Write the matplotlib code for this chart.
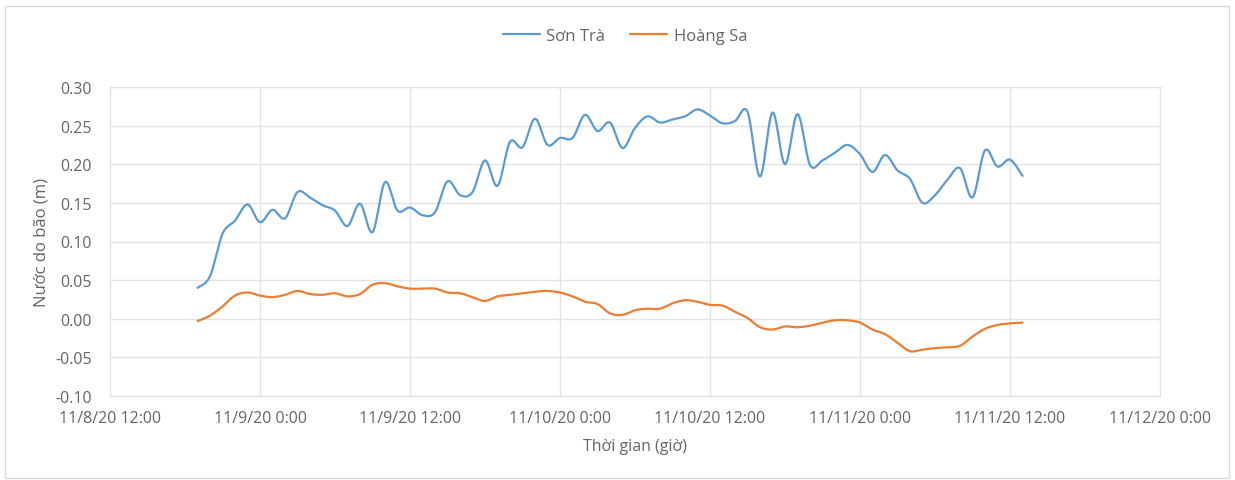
import numpy as np
import matplotlib
matplotlib.use("Agg")
import matplotlib.pyplot as plt
import matplotlib.dates as mdates
from matplotlib.patches import Rectangle
from datetime import datetime, timedelta

# ---- data ----
start_time = datetime(2020, 11, 8, 19, 0)
son_tra = [0.040, 0.055, 0.110, 0.127, 0.148, 0.125, 0.141, 0.130, 0.164, 0.157,
           0.147, 0.140, 0.120, 0.149, 0.112, 0.177, 0.140, 0.144, 0.134, 0.138,
           0.178, 0.160, 0.164, 0.205, 0.172, 0.229, 0.222, 0.259, 0.225, 0.234,
           0.234, 0.264, 0.243, 0.254, 0.221, 0.247, 0.262, 0.254, 0.258, 0.262,
           0.271, 0.263, 0.253, 0.256, 0.268, 0.184, 0.267, 0.200, 0.265, 0.199,
           0.205, 0.215, 0.225, 0.213, 0.190, 0.212, 0.192, 0.181, 0.150, 0.160,
           0.180, 0.195, 0.157, 0.218, 0.197, 0.206, 0.185]
hoang_sa = [-0.003, 0.004, 0.016, 0.030, 0.034, 0.030, 0.028, 0.031, 0.036, 0.032,
            0.031, 0.033, 0.029, 0.032, 0.044, 0.046, 0.042, 0.039, 0.039, 0.039,
            0.034, 0.033, 0.028, 0.023, 0.029, 0.031, 0.033, 0.035, 0.036, 0.034,
            0.029, 0.022, 0.019, 0.007, 0.005, 0.011, 0.013, 0.013, 0.020, 0.024,
            0.022, 0.018, 0.017, 0.009, 0.001, -0.011, -0.014, -0.010, -0.011, -0.009,
            -0.005, -0.002, -0.002, -0.005, -0.014, -0.020, -0.031, -0.042, -0.040, -0.038,
            -0.037, -0.035, -0.023, -0.013, -0.008, -0.006, -0.005]
times = [start_time + timedelta(hours=i) for i in range(len(son_tra))]
series_names = ["Sơn Trà", "Hoàng Sa"]
xtick_labels = ["11/8/20 12:00", "11/9/20 0:00", "11/9/20 12:00", "11/10/20 0:00",
                "11/10/20 12:00", "11/11/20 0:00", "11/11/20 12:00", "11/12/20 0:00"]
xtick_times = [datetime(2020, 11, 8, 12) + timedelta(hours=12 * i) for i in range(len(xtick_labels))]
yticks = [-0.10, -0.05, 0.00, 0.05, 0.10, 0.15, 0.20, 0.25, 0.30]


def smooth(x, y, n=12):
    """Catmull-Rom style smoothing similar to Excel's smoothed line."""
    x = np.asarray(x, float)
    y = np.asarray(y, float)
    px = np.concatenate([[x[0]], x, [x[-1]]])
    py = np.concatenate([[y[0]], y, [y[-1]]])
    xs, ys = [], []
    t = np.linspace(0, 1, n, endpoint=False)
    for i in range(1, len(px) - 2):
        p0x, p1x, p2x, p3x = px[i - 1], px[i], px[i + 1], px[i + 2]
        p0y, p1y, p2y, p3y = py[i - 1], py[i], py[i + 1], py[i + 2]
        c1x = p1x + (p2x - p0x) / 6
        c1y = p1y + (p2y - p0y) / 6
        c2x = p2x - (p3x - p1x) / 6
        c2y = p2y - (p3y - p1y) / 6
        b0 = (1 - t) ** 3
        b1 = 3 * (1 - t) ** 2 * t
        b2 = 3 * (1 - t) * t ** 2
        b3 = t ** 3
        xs.append(b0 * p1x + b1 * c1x + b2 * c2x + b3 * p2x)
        ys.append(b0 * p1y + b1 * c1y + b2 * c2y + b3 * p2y)
    xs.append([x[-1]])
    ys.append([y[-1]])
    return np.concatenate(xs), np.concatenate(ys)


plt.rcParams['font.family'] = ['Open Sans', 'DejaVu Sans']
text_color = "#666666"
fig = plt.figure(figsize=(12.35, 4.81), dpi=100)
ax = fig.add_axes([110 / 1235, 1 - 397 / 481, 1050 / 1235, 309 / 481])

xnum = mdates.date2num(times)
colors = ["#5B9BD5", "#ED7D31"]
for name, vals, c in zip(series_names, [son_tra, hoang_sa], colors):
    sx, sy = smooth(xnum, vals)
    ax.plot(sx, sy, color=c, lw=1.6, label=name, solid_capstyle='round')

ax.set_xlim(mdates.date2num(xtick_times[0]), mdates.date2num(xtick_times[-1]))
ax.set_ylim(-0.10, 0.30)
ax.set_xticks(mdates.date2num(xtick_times))
ax.set_xticklabels(xtick_labels)
ax.set_yticks(yticks)
ax.set_yticklabels([f"{v:.2f}" for v in yticks])
ax.grid(True, color="#E3E3E3", lw=1)
ax.set_axisbelow(True)
for s in ax.spines.values():
    s.set_color("#E3E3E3")
ax.tick_params(length=0, colors=text_color, labelsize=11.5)
ax.tick_params(axis='x', pad=10)
ax.tick_params(axis='y', pad=13)
ax.set_ylabel("Nước do bão (m)", color=text_color, fontsize=12, labelpad=4)
ax.set_xlabel("Thời gian (giờ)", color=text_color, fontsize=11.5, labelpad=9)

leg = fig.legend(loc="center", bbox_to_anchor=(625 / 1235, 1 - 37 / 481), ncol=2,
                 frameon=False, fontsize=12, handlelength=2.2, columnspacing=1.5,
                 handletextpad=0.4)
for t in leg.get_texts():
    t.set_color(text_color)

fig.patches.append(Rectangle((5 / 1235, 2 / 481), 1224 / 1235, 472 / 481,
                             transform=fig.transFigure, fill=False,
                             edgecolor="#D9D9D9", lw=1))
fig.savefig("out.png", dpi=100, facecolor="white")
